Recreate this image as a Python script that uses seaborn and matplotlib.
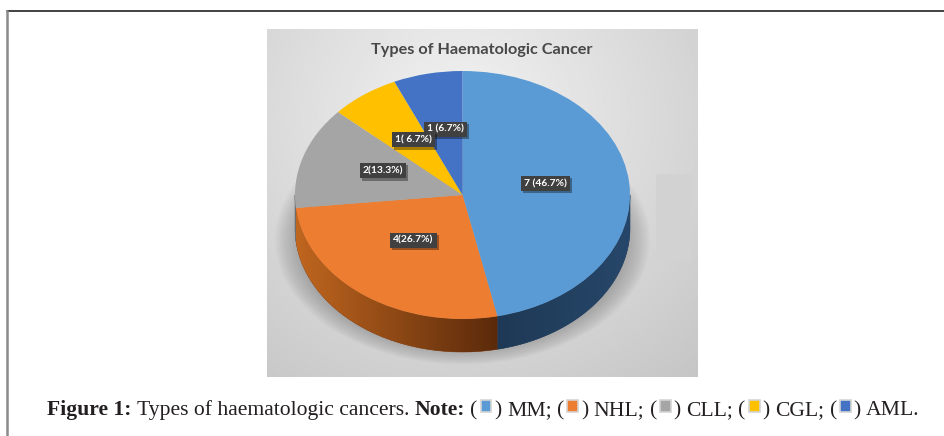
import numpy as np
import matplotlib
matplotlib.use("Agg")
import matplotlib.pyplot as plt
import seaborn as sns
from matplotlib.patches import Polygon, Rectangle, Ellipse
from matplotlib.lines import Line2D
from matplotlib.colors import to_rgb
import matplotlib.patheffects as pe

# ---------------- data ----------------
categories = ["MM", "NHL", "CLL", "CGL", "AML"]
counts = [7, 4, 2, 1, 1]
data_labels = ["7 (46.7%)", "4(26.7%)", "2(13.3%)", "1( 6.7%)", "1 (6.7%)"]
title_text = "Types of Haematologic Cancer"
caption_head = "Figure 1:"
caption_body = "Types of haematologic cancers."
caption_note = "Note:"

top_colors = ["#5B9BD5", "#ED7D31", "#A5A5A5", "#FFC000", "#4472C4"]
side_colors = ["#213D5C", "#8A4518", "#6E6E6E", "#A37B00", "#2C4A80"]

sns.set_theme(style="white")
plt.rcParams['font.family'] = ['DejaVu Sans']

W, H = 944, 436
fig = plt.figure(figsize=(W / 100, H / 100), dpi=100)
fig.patch.set_facecolor('white')
renderer = fig.canvas.get_renderer()


def fx(px):
    return px / W


def fy(py):
    return 1 - py / H


# ---------------- page frame lines ----------------
fig.add_artist(Line2D([fx(7), fx(944)], [fy(11), fy(11)], color='#222222', lw=1.2))
fig.add_artist(Line2D([fx(7), fx(7)], [fy(11), fy(436)], color='#8a8a8a', lw=1.8))

# ---------------- chart panel with gradient ----------------
PX0, PY0, PX1, PY1 = 267, 29, 697, 377
bg = fig.add_axes([fx(PX0), fy(PY1), (PX1 - PX0) / W, (PY1 - PY0) / H])
bg.set_axis_off()
ny, nx = 200, 250
yy, xx = np.mgrid[0:1:ny * 1j, 0:1:nx * 1j]
d = np.sqrt(((xx - 0.45) / 0.8) ** 2 + ((yy - 0.25) / 0.95) ** 2)
val = 0.95 - 0.17 * np.clip(d, 0, 1.2)
bg.imshow(val, cmap='gray', vmin=0, vmax=1, extent=[0, 1, 1, 0], aspect='auto',
          interpolation='bilinear')
bg.set_xlim(0, 1)
bg.set_ylim(1, 0)
bg.add_patch(Rectangle(((656 - PX0) / (PX1 - PX0), (174 - PY0) / (PY1 - PY0)),
                       35 / (PX1 - PX0), 86 / (PY1 - PY0), fc='#d2d2d2', ec='none'))

# ---------------- pie ----------------
CX, CY, RX, RY = 462.5, 195, 167.5, 124
XL, YT, YB = 1.2, 1.2, 1.5
DEPTH = 33 / RY
ax = fig.add_axes([fx(CX - XL * RX), fy(CY + YB * RY), 2 * XL * RX / W, (YT + YB) * RY / H])
ax.patch.set_alpha(0)

wedges, _ = ax.pie(counts, colors=top_colors, startangle=90, counterclock=False,
                   radius=1, wedgeprops=dict(linewidth=0, zorder=3))

# soft shadow under the pie (mostly below / to the sides)
for k in range(14):
    s = 1.12 - k * 0.01
    ax.add_patch(Ellipse((0.0, -0.36), 2 * s, 2 * s * 0.9, fc='black', ec='none',
                         alpha=0.014, zorder=1))


def front_range(t1, t2):
    for sft in (-360, 0, 360):
        a, b = max(t1 + sft, -180), min(t2 + sft, 0)
        if b > a:
            return a, b
    return None


grad_ends = {1: ("#C0661F", "#5A2A0B"), 0: ("#1E3955", "#27476A")}
for i, (w, sc) in enumerate(zip(wedges, side_colors)):
    rng = front_range(w.theta1, w.theta2)
    if rng is None:
        continue
    t = np.radians(np.linspace(rng[0], rng[1], 120))
    top = np.column_stack([np.cos(t), np.sin(t)])
    bot = np.column_stack([np.cos(t[::-1]), np.sin(t[::-1]) - DEPTH])
    pts = np.vstack([top, bot])
    poly = Polygon(pts, closed=True, fc=sc, ec=sc, lw=0.4, zorder=2)
    ax.add_patch(poly)
    if i in grad_ends:
        c0 = np.array(to_rgb(grad_ends[i][0]))
        c1 = np.array(to_rgb(grad_ends[i][1]))
        g = np.linspace(0, 1, 256)
        img = (c0[None, :] * (1 - g[:, None]) + c1[None, :] * g[:, None])[None, :, :]
        im = ax.imshow(img, extent=[pts[:, 0].min(), pts[:, 0].max(),
                                    pts[:, 1].min(), pts[:, 1].max()],
                       aspect='auto', zorder=2.5, interpolation='bilinear')
        im.set_clip_path(poly)

# data labels
zorders = [6, 6, 6, 8, 7]
for w, lab, z in zip(wedges, data_labels, zorders):
    mid = np.radians((w.theta1 + w.theta2) / 2)
    x, y = 0.5 * np.cos(mid), 0.5 * np.sin(mid) + 0.04
    tx = ax.text(x, y, lab, ha='center', va='center', color='white', fontsize=7.4,
                 fontweight='bold', family=['Lato', 'DejaVu Sans'], zorder=z,
                 bbox=dict(boxstyle='square,pad=0.3', fc='#404040', ec='none'))
    tx.get_bbox_patch().set_path_effects([
        pe.SimplePatchShadow(offset=(1.5, -1.5), shadow_rgbFace='black', alpha=0.35),
        pe.Normal()])

ax.set_aspect('auto')
ax.set_xlim(-XL, XL)
ax.set_ylim(-YB, YT)
ax.set_axis_off()

# ---------------- title ----------------
ttl = fig.text(fx(482), fy(54), title_text, ha='center', va='baseline', fontsize=12,
               fontweight='bold', color='#484848', family=['Lato', 'DejaVu Sans'])
wt = ttl.get_window_extent(renderer=renderer).width
ttl.set_fontsize(12 * 221 / wt)

# ---------------- caption ----------------
SERIF = ['Liberation Serif', 'DejaVu Serif']
CAP_X0, CAP_X1, CAP_BASE = 47, 915, 415


def build_tokens():
    toks = [(caption_head, True), 'SP', (caption_body, False), 'SP', (caption_note, True), 'SP']
    for j, (cat, col) in enumerate(zip(categories, top_colors)):
        toks += [("(", False), ('SQ', col), (")", False), 'SP']
        end = ";" if j < len(categories) - 1 else "."
        toks += [(cat + end, False)]
        if j < len(categories) - 1:
            toks += ['SP']
    return toks


def layout(fs, draw):
    artists = []
    x = CAP_X0
    probe1 = fig.text(0, 0, "x x", fontsize=fs, family=SERIF)
    probe2 = fig.text(0, 0, "xx", fontsize=fs, family=SERIF)
    sp = probe1.get_window_extent(renderer=renderer).width - probe2.get_window_extent(renderer=renderer).width
    probe1.remove()
    probe2.remove()
    px_fs = fs * 100 / 72
    sq = 0.5 * px_fs
    for tok in build_tokens():
        if tok == 'SP':
            x += sp
            continue
        s, b = tok
        if s == 'SQ':
            x += 0.14 * px_fs
            y0 = CAP_BASE - 0.14 * px_fs
            r1 = Rectangle((fx(x), fy(y0)), sq / W, sq * 1.1 / H, transform=fig.transFigure,
                           fc=b, ec='#d4d4d4', lw=1.2)
            fig.add_artist(r1)
            artists.append(r1)
            x += sq + 0.14 * px_fs
            continue
        t = fig.text(fx(x), fy(CAP_BASE), s, fontsize=fs, family=SERIF,
                     fontweight='bold' if b else 'normal', color='#231f20',
                     ha='left', va='baseline')
        artists.append(t)
        x += t.get_window_extent(renderer=renderer).width
    if not draw:
        for a in artists:
            a.remove()
    return x - CAP_X0


w0 = layout(13, draw=False)
fs_cap = 13 * (CAP_X1 - CAP_X0) / w0
layout(fs_cap, draw=True)

fig.savefig("out.png", dpi=100, facecolor='white')
